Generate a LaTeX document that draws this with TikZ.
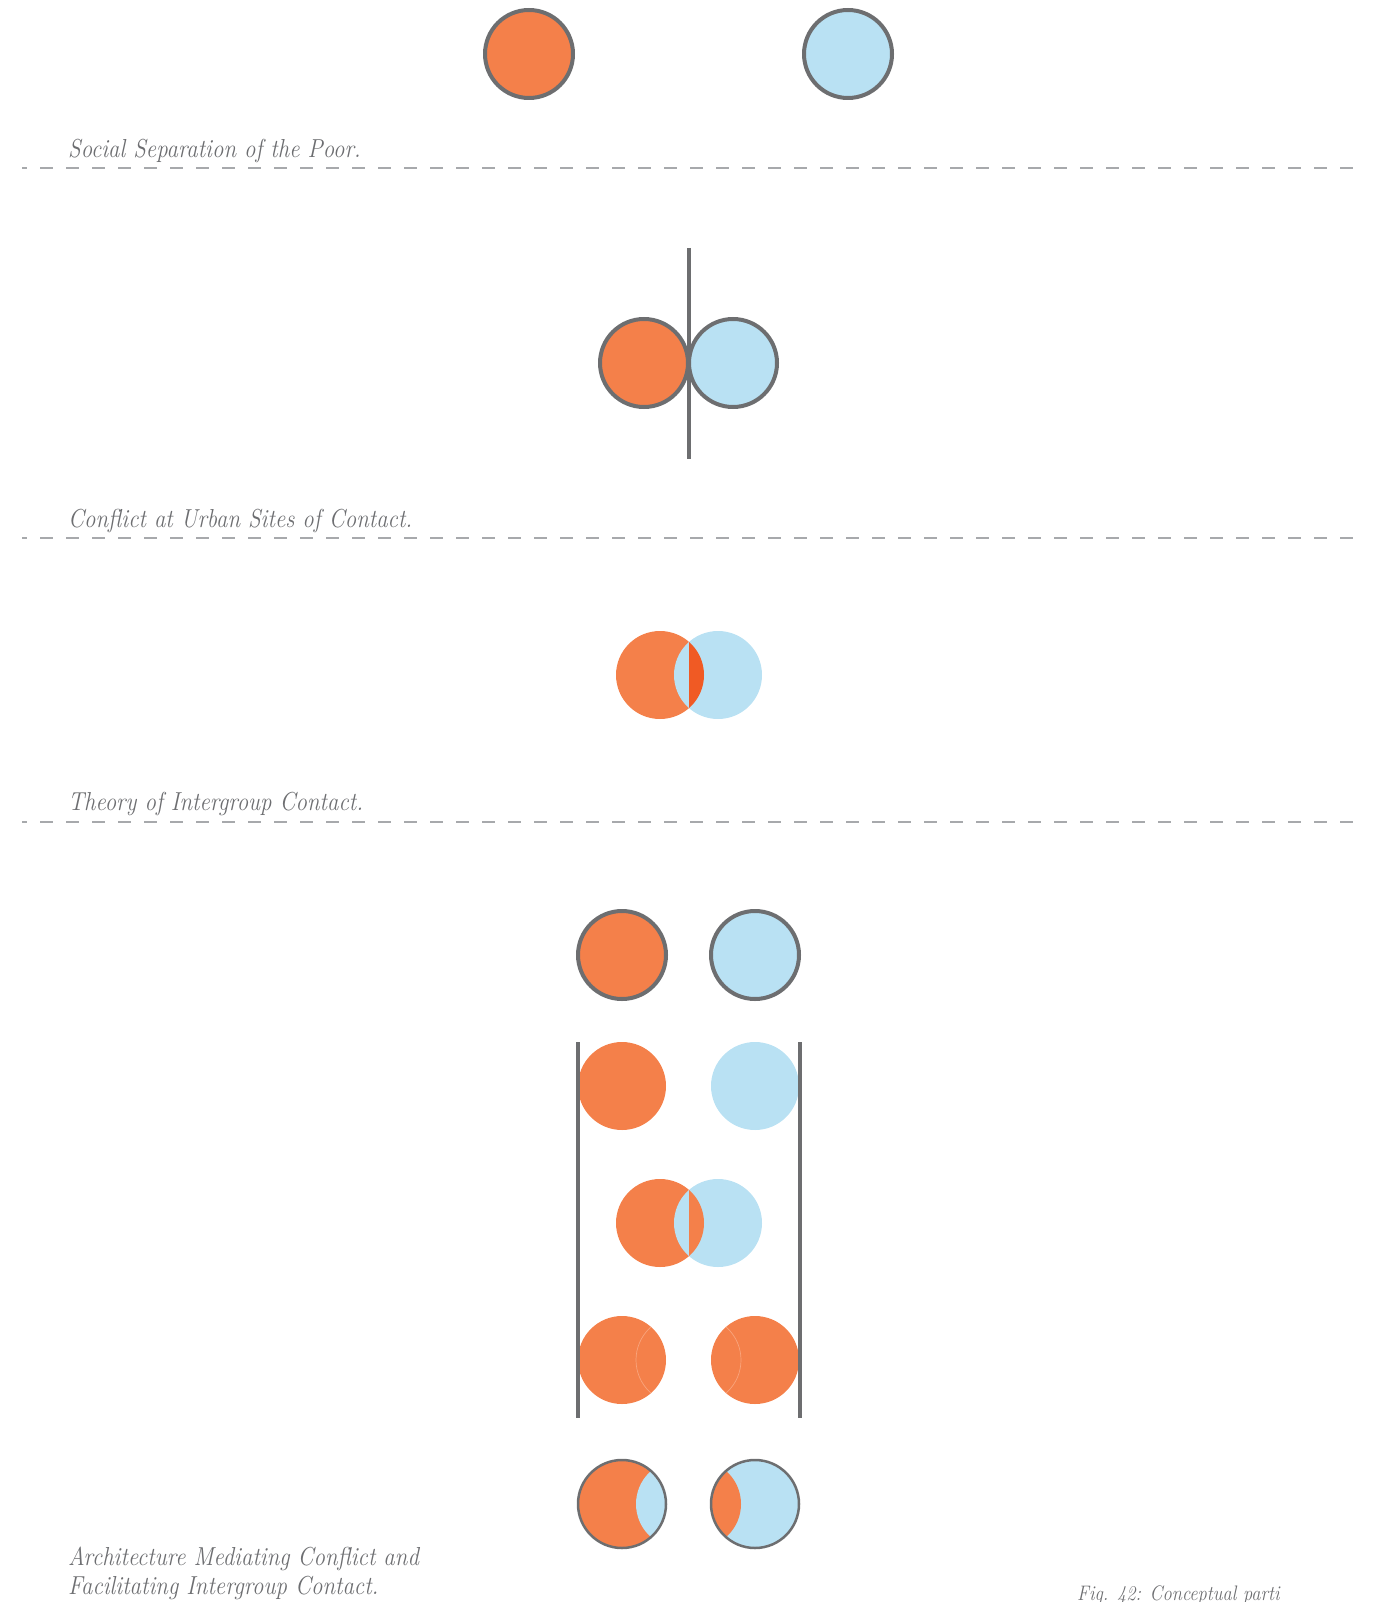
\documentclass[tikz,border=0pt]{standalone}
\usepackage{graphicx}
\definecolor{orng}{HTML}{F4804A}
\definecolor{lblue}{HTML}{B9E1F3}
\definecolor{dred}{HTML}{F05A24}
\definecolor{stroke}{HTML}{6D6E70}
\definecolor{dashc}{HTML}{A7A9AC}
\definecolor{txtc}{HTML}{6D6E71}
\definecolor{seam}{HTML}{F9A47C}
\tikzset{
  sep/.style={draw=dashc, line width=1.8pt, dash pattern=on 13pt off 13pt, dash phase=8pt},
  wall/.style={draw=stroke, line width=4.5pt},
  ring/.style={draw=stroke, line width=4pt},
  thinring/.style={draw=stroke, line width=2.5pt},
  lbl/.style={anchor=base west, inner sep=0pt, text=txtc, font=\fontsize{26}{31}\selectfont\itshape},
  figlbl/.style={anchor=base west, inner sep=0pt, text=txtc, font=\fontsize{21}{25}\selectfont\itshape}
}
\newcommand{\lb}[1]{\scalebox{0.88}[1]{#1}}
\begin{document}
\begin{tikzpicture}[x=1pt,y=-1pt]
\useasboundingbox (0,0) rectangle (1374,1602);
\def\R{44}
% ---------- section 1
\fill[orng] (529,54) circle (\R);
\draw[ring] (529,54) circle (\R);
\fill[lblue] (848,54) circle (\R);
\draw[ring] (848,54) circle (\R);
\node[lbl] (t1) at (68,158) {\lb{Social Separation of the Poor.}};
\coordinate (d1a) at (22,168); \coordinate (d1b) at (1357,168);
\draw[sep] (d1a) -- (d1b);
% ---------- section 2
\fill[orng] (644,363) circle (\R);
\draw[ring] (644,363) circle (\R);
\fill[lblue] (733,363) circle (\R);
\draw[ring] (733,363) circle (\R);
\coordinate (w0a) at (689,248); \coordinate (w0b) at (689,459);
\draw[wall] (w0a) -- (w0b);
\node[lbl] (t2) at (68,527) {\lb{Conflict at Urban Sites of Contact.}};
\coordinate (d2a) at (22,538); \coordinate (d2b) at (1357,538);
\draw[sep] (d2a) -- (d2b);
% ---------- section 3
\fill[orng] (660,675) circle (\R);
\fill[lblue] (718,675) circle (\R);
\begin{scope}
  \clip (689,600) rectangle (800,750);
  \fill[dred] (660,675) circle (\R);
\end{scope}
\node[lbl] (t3) at (68,810) {\lb{Theory of Intergroup Contact.}};
\coordinate (d3a) at (22,822); \coordinate (d3b) at (1357,822);
\draw[sep] (d3a) -- (d3b);
% ---------- section 4
\fill[orng] (622,955) circle (\R);
\draw[ring] (622,955) circle (\R);
\fill[lblue] (755,955) circle (\R);
\draw[ring] (755,955) circle (\R);
% row 5
\fill[orng] (622,1086) circle (\R);
\fill[lblue] (755,1086) circle (\R);
% row 6
\fill[orng] (660,1223) circle (\R);
\fill[lblue] (718,1223) circle (\R);
\begin{scope}
  \clip (689,1150) rectangle (800,1300);
  \fill[orng] (660,1223) circle (\R);
\end{scope}
% row 7
\fill[orng] (622,1360) circle (\R);
\fill[orng] (755,1360) circle (\R);
\begin{scope}
  \clip (622,1360) circle (\R);
  \draw[seam, line width=0.7pt] (680,1360) circle (\R);
\end{scope}
\begin{scope}
  \clip (755,1360) circle (\R);
  \draw[seam, line width=0.7pt] (697,1360) circle (\R);
\end{scope}
% walls
\coordinate (wla) at (578,1042); \coordinate (wlb) at (578,1418);
\coordinate (wra) at (800,1042); \coordinate (wrb) at (800,1418);
\draw[wall] (wla) -- (wlb);
\draw[wall] (wra) -- (wrb);
% row 8
\fill[orng] (622,1504) circle (\R);
\begin{scope}
  \clip (622,1504) circle (\R);
  \fill[lblue] (680,1504) circle (\R);
\end{scope}
\draw[thinring] (622,1504) circle (\R);
\fill[lblue] (755,1504) circle (\R);
\begin{scope}
  \clip (755,1504) circle (\R);
  \fill[orng] (697,1504) circle (\R);
\end{scope}
\draw[thinring] (755,1504) circle (\R);
\node[lbl] (t4a) at (68,1565) {\lb{Architecture Mediating Conflict and}};
\node[lbl] (t4b) at (68,1594) {\lb{Facilitating Intergroup Contact.}};
\node[figlbl] (fig) at (1077,1600) {\lb{Fig. 42: Conceptual parti}};
\end{tikzpicture}
\end{document}
